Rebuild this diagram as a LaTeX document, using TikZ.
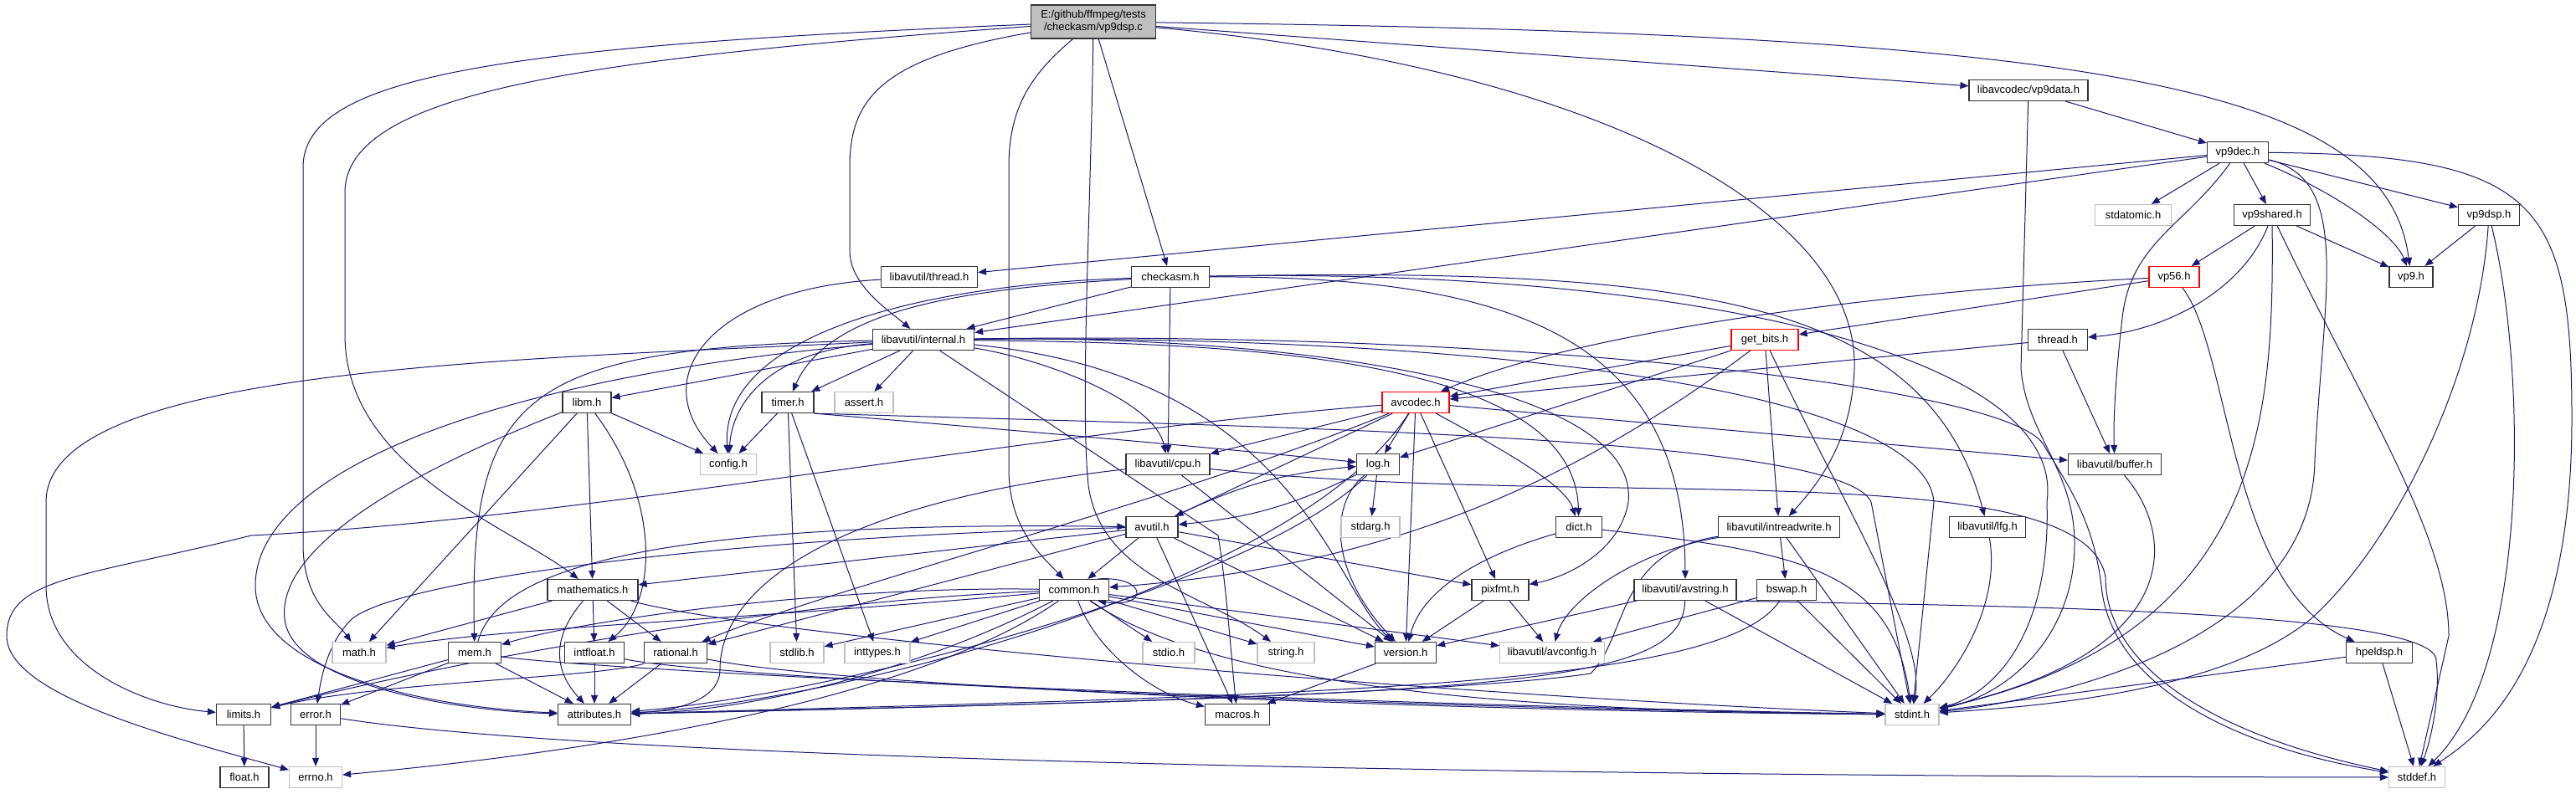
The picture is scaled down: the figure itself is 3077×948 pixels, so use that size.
\documentclass[tikz,border=0pt]{standalone}
\usepackage{fontspec}
\setmainfont{Liberation Sans}
\usetikzlibrary{arrows.meta}
\definecolor{navyedge}{HTML}{191970}
\pgfdeclarelayer{bg}
\pgfdeclarelayer{edgelayer}
\pgfsetlayers{bg,edgelayer,main}

\begin{document}
\begin{tikzpicture}[x=1pt, y=-1pt,
  hdr/.style={draw=black!80, line width=1.2pt, fill=white, rectangle, minimum height=25pt, inner sep=0pt, font=\fontsize{13}{15}\selectfont},
  syshdr/.style={hdr, draw=black!25},
  cuthdr/.style={hdr, draw=red},
  inc/.style={draw=navyedge, line width=1pt, -{Triangle[length=10pt,width=8pt]}}]
  \begin{pgfonlayer}{bg}
    \fill[white] (0,0) rectangle (3077,948);
  \end{pgfonlayer}
  \useasboundingbox (0,0) rectangle (3077,948);

  \node[hdr, fill=black!25, minimum width=149pt, minimum height=40pt, align=center] (main) at (1306,26) {E:/github/ffmpeg/tests\\/checkasm/vp9dsp.c};
  \node[hdr, minimum width=142pt] (vp9data) at (2423,108) {libavcodec/vp9data.h};
  \node[hdr, minimum width=73pt] (vp9dec) at (2673,182) {vp9dec.h};
  \node[syshdr, minimum width=91pt] (stdatomic) at (2548,257) {stdatomic.h};
  \node[hdr, minimum width=91pt] (vp9shared) at (2714,257) {vp9shared.h};
  \node[hdr, minimum width=73pt] (vp9dsp) at (2973,257) {vp9dsp.h};
  \node[cuthdr, minimum width=60pt] (vp56) at (2597,331) {vp56.h};
  \node[hdr, minimum width=52pt] (vp9) at (2880,331) {vp9.h};
  \node[hdr, minimum width=71pt] (thread) at (2458,406) {thread.h};
  \node[hdr, minimum width=111pt] (buffer) at (2526,555) {libavutil/buffer.h};
  \node[hdr, minimum width=91pt] (lfg) at (2374,630) {libavutil/lfg.h};
  \node[hdr, minimum width=79pt] (hpeldsp) at (2842,780) {hpeldsp.h};
  \node[syshdr, minimum width=67pt] (stddef) at (2887,929) {stddef.h};
  \node[syshdr, minimum width=64pt] (stdint) at (2284,854) {stdint.h};
  \node[hdr, minimum width=115pt] (lthread) at (1110,331) {libavutil/thread.h};
  \node[hdr, minimum width=93pt] (checkasm) at (1398,331) {checkasm.h};
  \node[hdr, minimum width=121pt] (internal) at (1103,406) {libavutil/internal.h};
  \node[hdr, minimum width=62pt] (timer) at (941,481) {timer.h};
  \node[syshdr, minimum width=70pt] (assert) at (1032,481) {assert.h};
  \node[syshdr, minimum width=67pt] (config) at (870,555) {config.h};
  \node[hdr, minimum width=100pt] (cpu) at (1395,555) {libavutil/cpu.h};
  \node[hdr, minimum width=62pt] (avutil) at (1376,630) {avutil.h};
  \node[hdr, minimum width=58pt] (libm) at (701,481) {libm.h};
  \node[cuthdr, minimum width=80pt] (getbits) at (2108,406) {get\_bits.h};
  \node[cuthdr, minimum width=80pt] (avcodec) at (1691,481) {avcodec.h};
  \node[hdr, minimum width=51pt] (log) at (1646,555) {log.h};
  \node[syshdr, minimum width=70pt] (stdarg) at (1637,630) {stdarg.h};
  \node[hdr, minimum width=55pt] (dict) at (1886,630) {dict.h};
  \node[hdr, minimum width=145pt] (intreadwrite) at (2125,630) {libavutil/intreadwrite.h};
  \node[hdr, minimum width=108pt] (mathematics) at (708,705) {mathematics.h};
  \node[syshdr, minimum width=64pt] (math) at (429,780) {math.h};
  \node[hdr, minimum width=63pt] (mem) at (567,780) {mem.h};
  \node[hdr, minimum width=71pt] (intfloat) at (710,780) {intfloat.h};
  \node[hdr, minimum width=65pt] (limits) at (291,854) {limits.h};
  \node[hdr, minimum width=59pt] (error) at (377,854) {error.h};
  \node[hdr, minimum width=87pt] (attributes) at (710,854) {attributes.h};
  \node[hdr, minimum width=58pt] (float) at (292,929) {float.h};
  \node[syshdr, minimum width=63pt] (errno) at (377,929) {errno.h};
  \node[hdr, minimum width=75pt] (rational) at (807,780) {rational.h};
  \node[syshdr, minimum width=64pt] (stdlib) at (952,780) {stdlib.h};
  \node[syshdr, minimum width=78pt] (inttypes) at (1048,780) {inttypes.h};
  \node[hdr, minimum width=83pt] (common) at (1283,705) {common.h};
  \node[syshdr, minimum width=62pt] (stdio) at (1396,780) {stdio.h};
  \node[syshdr, minimum width=68pt] (string) at (1536,780) {string.h};
  \node[hdr, minimum width=77pt] (macros) at (1478,854) {macros.h};
  \node[hdr, minimum width=68pt] (pixfmt) at (1792,705) {pixfmt.h};
  \node[hdr, minimum width=122pt] (avstring) at (2013,705) {libavutil/avstring.h};
  \node[hdr, minimum width=71pt] (bswap) at (2134,705) {bswap.h};
  \node[hdr, minimum width=73pt] (version) at (1679,780) {version.h};
  \node[syshdr, minimum width=125pt] (avconfig) at (1854,780) {libavutil/avconfig.h};

  \begin{pgfonlayer}{edgelayer}
  % vp9dsp.c
  \draw[inc] (main) .. controls (600,55) and (362,90) .. (362,200) -- (362,650) .. controls (362,720) and (400,740) .. (math);
  \draw[inc] (main) .. controls (700,70) and (412,110) .. (412,230) -- (412,400) .. controls (412,560) and (610,630) .. (mathematics);
  \draw[inc] (main) .. controls (1050,70) and (1015,120) .. (1015,200) -- (1015,300) .. controls (1015,340) and (1060,370) .. (internal);
  \draw[inc] (main) .. controls (1230,90) and (1205,130) .. (1205,200) -- (1205,560) .. controls (1205,630) and (1240,660) .. (common);
  \draw[inc] (main) .. controls (1303,250) and (1290,480) .. (1300,580) .. controls (1315,690) and (1440,710) .. (string);
  \draw[inc] (main) -- (checkasm);
  \draw[inc] (main) -- (vp9data);
  \draw[inc] (main) .. controls (2500,40) and (2850,100) .. (vp9);
  \draw[inc] (main) .. controls (1900,80) and (2220,250) .. (2215,440) .. controls (2212,530) and (2170,580) .. (intreadwrite);
  % vp9 headers
  \draw[inc] (vp9data) -- (vp9dec);
  \draw[inc] (vp9data) -- (2414,440) .. controls (2420,520) and (2478,560) .. (2478,650) .. controls (2478,760) and (2400,830) .. (stdint);
  \draw[inc] (vp9dec) -- (stdatomic);
  \draw[inc] (vp9dec) -- (vp9shared);
  \draw[inc] (vp9dec) -- (vp9dsp);
  \draw[inc] (vp9dec) .. controls (2790,230) and (2860,280) .. (vp9);
  \draw[inc] (vp9dec) -- (lthread);
  \draw[inc] (vp9dec) -- (internal);
  \draw[inc] (vp9dec) .. controls (2610,270) and (2545,290) .. (2535,380) .. controls (2528,440) and (2524,500) .. (buffer);
  \draw[inc] (vp9dec) .. controls (2810,215) and (2775,350) .. (2765,550) .. controls (2762,780) and (2420,840) .. (stdint);
  \draw[inc] (vp9dec) .. controls (3030,185) and (3072,240) .. (3072,500) .. controls (3072,800) and (2960,880) .. (stddef);
  \draw[inc] (vp9shared) -- (vp56);
  \draw[inc] (vp9shared) .. controls (2680,345) and (2590,395) .. (thread);
  \draw[inc] (vp9shared) -- (vp9);
  \draw[inc] (vp9shared) .. controls (2716,500) and (2705,760) .. (stdint);
  \draw[inc] (vp9shared) .. controls (2820,480) and (2925,640) .. (2925,760) -- (stddef);
  \draw[inc] (vp9dsp) -- (vp9);
  \draw[inc] (vp9dsp) .. controls (2960,450) and (2860,650) .. (2760,740) .. controls (2650,830) and (2420,845) .. (stdint);
  \draw[inc] (vp9dsp) .. controls (3020,450) and (3020,800) .. (stddef);
  \draw[inc] (vp56) .. controls (2300,345) and (1900,390) .. (avcodec);
  \draw[inc] (vp56) -- (getbits);
  \draw[inc] (vp56) .. controls (2665,420) and (2662,700) .. (hpeldsp);
  \draw[inc] (thread) -- (buffer);
  \draw[inc] (thread) -- (avcodec);
  \draw[inc] (buffer) .. controls (2600,640) and (2610,780) .. (stdint);
  \draw[inc] (lfg) .. controls (2390,720) and (2340,800) .. (stdint);
  \draw[inc] (hpeldsp) -- (stdint);
  \draw[inc] (hpeldsp) -- (stddef);
  % checkasm and libavutil
  \draw[inc] (lthread) .. controls (850,345) and (770,450) .. (config);
  \draw[inc] (checkasm) .. controls (1100,340) and (860,400) .. (config);
  \draw[inc] (checkasm) .. controls (1150,345) and (990,370) .. (timer);
  \draw[inc] (checkasm) -- (internal);
  \draw[inc] (checkasm) -- (cpu);
  \draw[inc] (checkasm) .. controls (1800,330) and (2012,400) .. (avstring);
  \draw[inc] (checkasm) .. controls (2000,320) and (2300,350) .. (lfg);
  \draw[inc] (checkasm) .. controls (2000,320) and (2470,420) .. (2445,600) .. controls (2450,760) and (2380,830) .. (stdint);
  \draw[inc] (internal) -- (timer);
  \draw[inc] (internal) -- (assert);
  \draw[inc] (internal) .. controls (920,420) and (875,480) .. (config);
  \draw[inc] (internal) -- (libm);
  \draw[inc] (internal) .. controls (600,430) and (55,440) .. (55,600) -- (55,700) .. controls (55,800) and (180,845) .. (limits);
  \draw[inc] (internal) .. controls (600,450) and (305,560) .. (305,700) .. controls (305,800) and (500,845) .. (attributes);
  \draw[inc] (internal) .. controls (620,415) and (560,470) .. (mem);
  \draw[inc] (internal) .. controls (1250,430) and (1380,480) .. (cpu);
  \draw[inc] (internal) .. controls (1450,410) and (1880,420) .. (dict);
  \draw[inc] (internal) .. controls (1500,400) and (1960,450) .. (1945,600) .. controls (1935,660) and (1870,690) .. (pixfmt);
  \draw[inc] (internal) -- (1455,640) .. controls (1465,700) and (1470,780) .. (macros);
  \draw[inc] (internal) .. controls (1550,450) and (1590,700) .. (version);
  \draw[inc] (internal) .. controls (1800,400) and (2300,470) .. (2310,600) -- (stdint);
  \draw[inc] (internal) .. controls (1800,395) and (2390,460) .. (2440,530) .. controls (2470,580) and (2500,620) .. (2510,700) .. controls (2520,810) and (2650,890) .. (stddef);
  \draw[inc] (avcodec) .. controls (1200,520) and (700,620) .. (300,640) .. controls (100,690) and (8,690) .. (8,760) .. controls (8,830) and (200,880) .. (errno);
  \draw[inc] (avcodec) .. controls (1550,700) and (1000,840) .. (attributes);
  \draw[inc] (avcodec) -- (avutil);
  \draw[inc] (avcodec) -- (buffer);
  \draw[inc] (avcodec) -- (cpu);
  \draw[inc] (avcodec) .. controls (1800,540) and (1870,580) .. (dict);
  \draw[inc] (avcodec) -- (log);
  \draw[inc] (avcodec) -- (pixfmt);
  \draw[inc] (avcodec) .. controls (1400,600) and (1000,700) .. (rational);
  \draw[inc] (avcodec) -- (version);
  \draw[inc] (getbits) .. controls (1850,600) and (1620,680) .. (common);
  \draw[inc] (getbits) -- (intreadwrite);
  \draw[inc] (getbits) -- (log);
  \draw[inc] (getbits) -- (avcodec);
  \draw[inc] (getbits) .. controls (2200,600) and (2300,760) .. (stdint);
  \draw[inc] (log) -- (stdarg);
  \draw[inc] (log) to[bend left=10] (avutil);
  \draw[inc] (log) .. controls (1500,700) and (1000,830) .. (attributes);
  \draw[inc] (log) .. controls (1590,600) and (1585,680) .. (version);
  \draw[inc] (avutil) to[bend left=10] (log);
  \draw[inc] (avutil) -- (common);
  \draw[inc] (avutil) .. controls (900,640) and (480,690) .. (420,740) .. controls (395,765) and (385,800) .. (error);
  \draw[inc] (avutil) -- (rational);
  \draw[inc] (avutil) -- (version);
  \draw[inc] (avutil) -- (macros);
  \draw[inc] (avutil) -- (mathematics);
  \draw[inc] (avutil) -- (pixfmt);
  \draw[inc] (timer) -- (config);
  \draw[inc] (timer) -- (stdlib);
  \draw[inc] (timer) -- (inttypes);
  \draw[inc] (timer.south east) .. controls (1100,505) and (1400,530) .. (log);
  \draw[inc] (timer.south east) .. controls (1500,510) and (2200,520) .. (2235,600) -- (stdint);
  \draw[inc] (cpu) .. controls (1000,600) and (860,700) .. (860,800) .. controls (860,840) and (800,850) .. (attributes);
  \draw[inc] (cpu) -- (version);
  \draw[inc] (cpu) .. controls (1900,610) and (2490,540) .. (2515,690) .. controls (2515,800) and (2650,880) .. (stddef);
  \draw[inc] (libm) -- (config);
  \draw[inc] (libm) -- (math);
  \draw[inc] (libm) -- (mathematics);
  \draw[inc] (libm) .. controls (790,600) and (785,720) .. (intfloat);
  \draw[inc] (libm) .. controls (500,560) and (330,650) .. (340,740) .. controls (350,820) and (550,850) .. (attributes);
  \draw[inc] (mem) -- (limits);
  \draw[inc] (mem) -- (error);
  \draw[inc] (mem) -- (attributes);
  \draw[inc] (mem) .. controls (700,800) and (1500,840) .. (stdint);
  \draw[inc] (mem) .. controls (590,700) and (700,620) .. (avutil);
  \draw[inc] (mathematics) -- (math);
  \draw[inc] (mathematics) -- (intfloat);
  \draw[inc] (mathematics) .. controls (660,760) and (660,800) .. (attributes);
  \draw[inc] (mathematics) -- (rational);
  \draw[inc] (mathematics) .. controls (900,760) and (1700,830) .. (stdint);
  \draw[inc] (intfloat) -- (attributes);
  \draw[inc] (intfloat) .. controls (850,810) and (1600,845) .. (stdint);
  \draw[inc] (rational) .. controls (720,810) and (450,815) .. (limits);
  \draw[inc] (rational) -- (attributes);
  \draw[inc] (rational) .. controls (1000,820) and (1700,850) .. (stdint);
  % common.h
  \draw[inc] (common.25) .. controls (1372,688) and (1372,728) .. (common.-25);
  \draw[inc] (common) .. controls (1120,820) and (800,890) .. (errno);
  \draw[inc] (common) -- (inttypes);
  \draw[inc] (common) -- (stdlib);
  \draw[inc] (common) -- (stdio);
  \draw[inc] (common) -- (string);
  \draw[inc] (common) .. controls (1310,780) and (1380,830) .. (macros);
  \draw[inc] (common) .. controls (1100,800) and (900,850) .. (attributes);
  \draw[inc] (common) .. controls (900,720) and (500,800) .. (limits);
  \draw[inc] (common) .. controls (900,740) and (600,750) .. (math);
  \draw[inc] (common) .. controls (1450,820) and (1800,850) .. (stdint);
  \draw[inc] (common) -- (version);
  \draw[inc] (common) -- (avconfig);
  \draw[inc] (common) .. controls (1000,700) and (700,740) .. (mem);
  \draw[inc] (dict) .. controls (1780,660) and (1700,700) .. (version);
  \draw[inc] (dict) .. controls (2150,660) and (2260,680) .. (stdint);
  \draw[inc] (intreadwrite) -- (bswap);
  \draw[inc] (intreadwrite) .. controls (1950,660) and (1870,720) .. (avconfig);
  \draw[inc] (intreadwrite) .. controls (1930,660) and (1945,760) .. (1900,805) .. controls (1700,835) and (900,850) .. (attributes);
  \draw[inc] (intreadwrite) -- (stdint);
  \draw[inc] (bswap) -- (avconfig);
  \draw[inc] (bswap) .. controls (2060,820) and (1600,830) .. (attributes);
  \draw[inc] (bswap) -- (stdint);
  \draw[inc] (avstring) -- (version);
  \draw[inc] (avstring) .. controls (2010,820) and (1800,830) .. (attributes);
  \draw[inc] (avstring) -- (stdint);
  \draw[inc] (avstring.south east) .. controls (2300,724) and (2915,725) .. (2910,790) .. controls (2915,830) and (2905,880) .. (stddef);
  \draw[inc] (pixfmt) -- (version);
  \draw[inc] (pixfmt) -- (avconfig);
  \draw[inc] (version) -- (macros);
  \draw[inc] (limits) -- (float);
  \draw[inc] (error) -- (errno);
  \draw[inc] (error) .. controls (700,905) and (1700,928) .. (stddef);
  \end{pgfonlayer}
\end{tikzpicture}
\end{document}
